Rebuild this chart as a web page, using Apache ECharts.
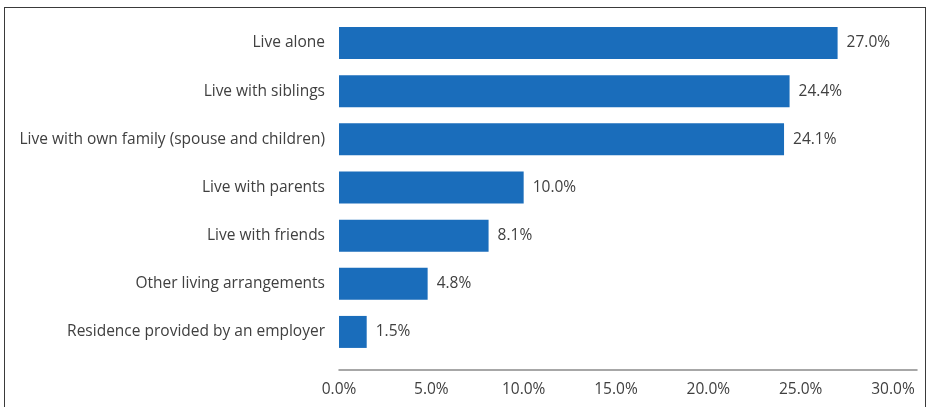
<!DOCTYPE html>
<html>
<head>
<meta charset="utf-8">
<script src="https://cdn.jsdelivr.net/npm/echarts@6/dist/echarts.min.js"></script>
<style>
  html, body { margin: 0; padding: 0; background: #fff; }
  #frame { position: absolute; left: 4px; top: 7px; width: 922px; height: 420px;
           border: 1.5px solid #3a3a3a; box-sizing: border-box; }
  #chart { position: absolute; left: 0; top: 0; width: 930px; height: 407px; }
</style>
</head>
<body>
<div id="frame"></div>
<div id="chart"></div>
<script>
// Living arrangements, share of respondents (%)
const categories = [
  'Live alone',
  'Live with siblings',
  'Live with own family (spouse and children)',
  'Live with parents',
  'Live with friends',
  'Other living arrangements',
  'Residence provided by an employer'
];
const shares = [27.0, 24.4, 24.1, 10.0, 8.1, 4.8, 1.5];
const tickStep = 5;

const font = '"Open Sans", Lato, sans-serif';
const chart = echarts.init(document.getElementById('chart'), null, { renderer: 'canvas' });

chart.setOption({
  animation: false,
  grid: { left: 339, top: 19, width: 578, height: 337, containLabel: false },
  xAxis: {
    type: 'value',
    min: 0,
    max: 31.3,
    interval: tickStep,
    offset: 14,
    axisLine: { show: true, lineStyle: { color: '#8a8a8a', width: 1.5 } },
    axisTick: { show: false },
    splitLine: { show: false },
    axisLabel: {
      showMaxLabel: false,
      margin: 12,
      color: '#404040',
      fontFamily: font,
      fontSize: 15.5,
      formatter: v => v.toFixed(1) + '%'
    }
  },
  yAxis: {
    type: 'category',
    inverse: true,
    data: categories,
    axisLine: { show: false },
    axisTick: { show: false },
    axisLabel: { margin: 14, color: '#404040', fontFamily: font, fontSize: 15.5 }
  },
  series: [{
    type: 'bar',
    data: shares,
    barWidth: 32,
    itemStyle: { color: '#1a6dbb' },
    label: {
      show: true,
      position: 'right',
      distance: 9,
      color: '#404040',
      fontFamily: font,
      fontSize: 15.5,
      formatter: p => p.value.toFixed(1) + '%'
    }
  }]
});
</script>
</body>
</html>
